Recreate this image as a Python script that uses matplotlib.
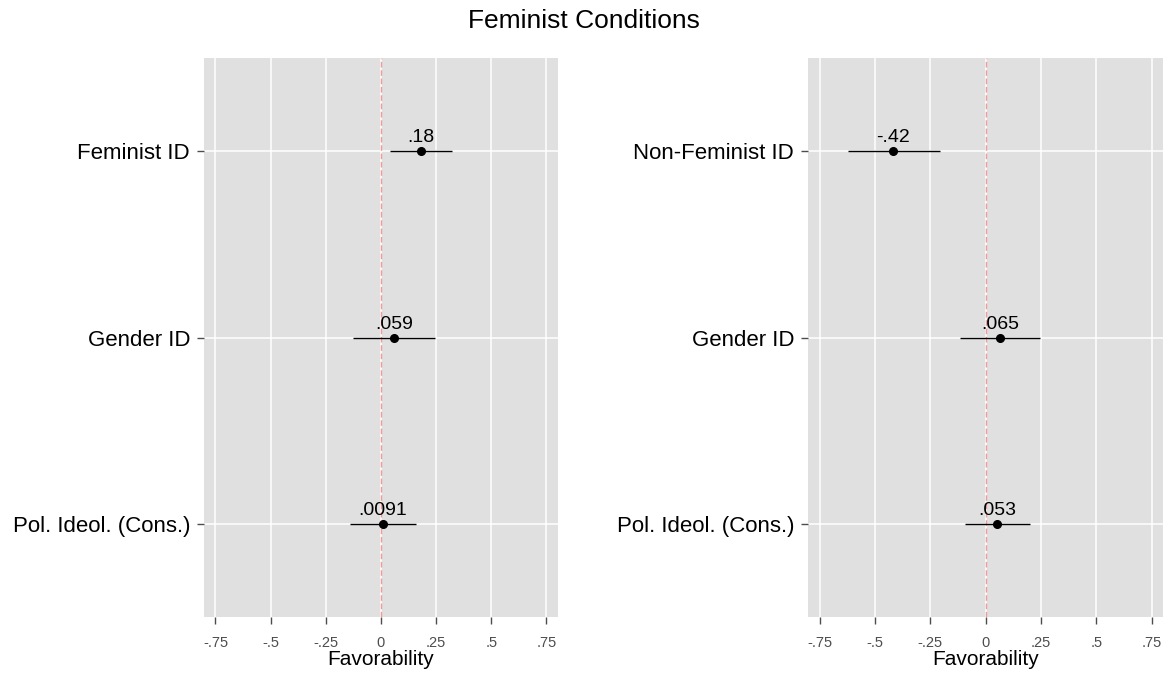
import matplotlib.pyplot as plt
import numpy as np

plt.rcParams['font.family'] = ['Liberation Sans', 'DejaVu Sans']

# left panel
left_labels = ['Feminist ID', 'Gender ID', 'Pol. Ideol. (Cons.)']
left_est = [0.18, 0.059, 0.0091]
left_lo = [0.04, -0.125, -0.14]
left_hi = [0.32, 0.245, 0.16]
left_txt = ['.18', '.059', '.0091']

# right panel
right_labels = ['Non-Feminist ID', 'Gender ID', 'Pol. Ideol. (Cons.)']
right_est = [-0.42, 0.065, 0.053]
right_lo = [-0.62, -0.114, -0.092]
right_hi = [-0.205, 0.247, 0.199]
right_txt = ['-.42', '.065', '.053']

xticks = [-0.75, -0.5, -0.25, 0, 0.25, 0.5, 0.75]
xtick_labels = ['-.75', '-.5', '-.25', '0', '.25', '.5', '.75']

fig = plt.figure(figsize=(11.67, 6.73), dpi=100)
ax1 = fig.add_axes([0.1748, 0.0832, 0.3033, 0.8306])
ax2 = fig.add_axes([0.6924, 0.0832, 0.3042, 0.8306])


def draw(ax, labels, est, lo, hi, txt):
    ax.set_facecolor('#e0e0e0')
    for s in ax.spines.values():
        s.set_visible(False)
    y = np.arange(len(labels), 0, -1)
    ax.set_xlim(-0.802, 0.802)
    ax.set_ylim(0.5, len(labels) + 0.5)
    ax.set_xticks(xticks)
    ax.set_xticklabels(xtick_labels, fontsize=10.5, color='#4d4d4d')
    ax.set_yticks(y)
    ax.set_yticklabels(labels, fontsize=16, color='black')
    ax.tick_params(axis='x', color='#4d4d4d', length=5, width=1, pad=9)
    ax.tick_params(axis='y', color='#4d4d4d', length=5, width=1, pad=5)
    ax.grid(True, color='white', linewidth=1.1)
    ax.set_axisbelow(True)
    ax.axvline(0, color='#f29a9a', linestyle=(0, (4, 2)), linewidth=1, zorder=2)
    ax.hlines(y, lo, hi, color='black', linewidth=1, zorder=3)
    ax.plot(est, y, 'o', color='black', markersize=5.5, zorder=4)
    for xi, yi, t in zip(est, y, txt):
        ax.annotate(t, (xi, yi), xytext=(0, 3.5), textcoords='offset points',
                    ha='center', va='bottom', fontsize=14)
    ax.set_xlabel('Favorability', fontsize=15, labelpad=0)


draw(ax1, left_labels, left_est, left_lo, left_hi, left_txt)
draw(ax2, right_labels, right_est, right_lo, right_hi, right_txt)

fig.suptitle('Feminist Conditions', fontsize=19, y=0.987)
fig.savefig('out.png', dpi=100)
